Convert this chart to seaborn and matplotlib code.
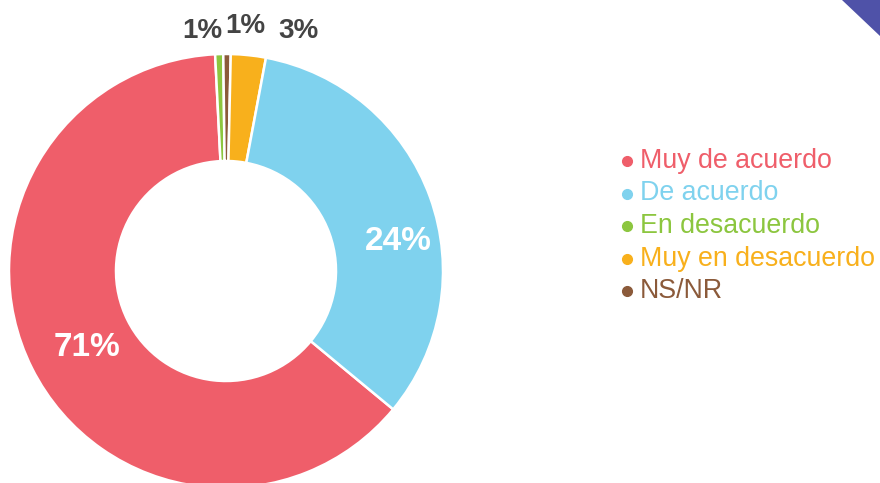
import matplotlib
matplotlib.use("Agg")
import matplotlib.pyplot as plt
from matplotlib.patches import Polygon
import seaborn as sns

# ---- data ----
legend_labels = ["Muy de acuerdo", "De acuerdo", "En desacuerdo", "Muy en desacuerdo", "NS/NR"]
legend_colors = ["#EF5E6A", "#7FD2EE", "#8CC63F", "#F8B01C", "#8B5A3A"]
# wedge shares as drawn (clockwise order: red, green, brown, orange, blue)
wedge_order = [0, 2, 4, 3, 1]
wedge_sizes = [63.2, 0.6, 0.55, 2.6, 33.05]
pct_labels = ["71%", "24%", "1%", "3%", "1%"]

sns.set_theme(style="white")
plt.rcParams["font.family"] = ["Liberation Sans", "DejaVu Sans"]

fig = plt.figure(figsize=(8.8, 4.83), dpi=100)
ax = fig.add_axes([0, 0, 1, 1])

H = 483
cx, cy, R = 226, H - 271, 217
colors = [legend_colors[i] for i in wedge_order]
ax.pie(wedge_sizes, colors=colors, startangle=-39.6, counterclock=False,
       center=(cx, cy), radius=R, frame=True,
       wedgeprops=dict(width=107, edgecolor="white", linewidth=1.8))
ax.set_xlim(0, 880)
ax.set_ylim(0, 483)
ax.set_aspect("equal")
ax.axis("off")

# percentage labels
ax.text(87, H - 348, pct_labels[0], color="white", fontsize=24, fontweight="bold",
        ha="center", va="center")
ax.text(398, H - 242, pct_labels[1], color="white", fontsize=24, fontweight="bold",
        ha="center", va="center")
ax.text(202, H - 31, pct_labels[2], color="#444444", fontsize=20, fontweight="bold",
        ha="center", va="center")
ax.text(245, H - 26, pct_labels[4], color="#444444", fontsize=20, fontweight="bold",
        ha="center", va="center")
ax.text(298, H - 31, pct_labels[3], color="#444444", fontsize=20, fontweight="bold",
        ha="center", va="center")

# legend
for k, (lab, col) in enumerate(zip(legend_labels, legend_colors)):
    y = H - (161 + 32.5 * k)
    ax.plot([627], [y], marker="o", markersize=7, color=col, linestyle="none")
    ax.text(640, y, lab, color=col, fontsize=19.3, ha="left", va="center")

# corner decoration
fig.patches.append(Polygon([[842 / 880, 1], [1, 1], [1, 1 - 36 / 483]], closed=True,
                           transform=fig.transFigure, facecolor="#4F52A8", edgecolor="none"))

fig.savefig("out.png", dpi=100, facecolor="white")
